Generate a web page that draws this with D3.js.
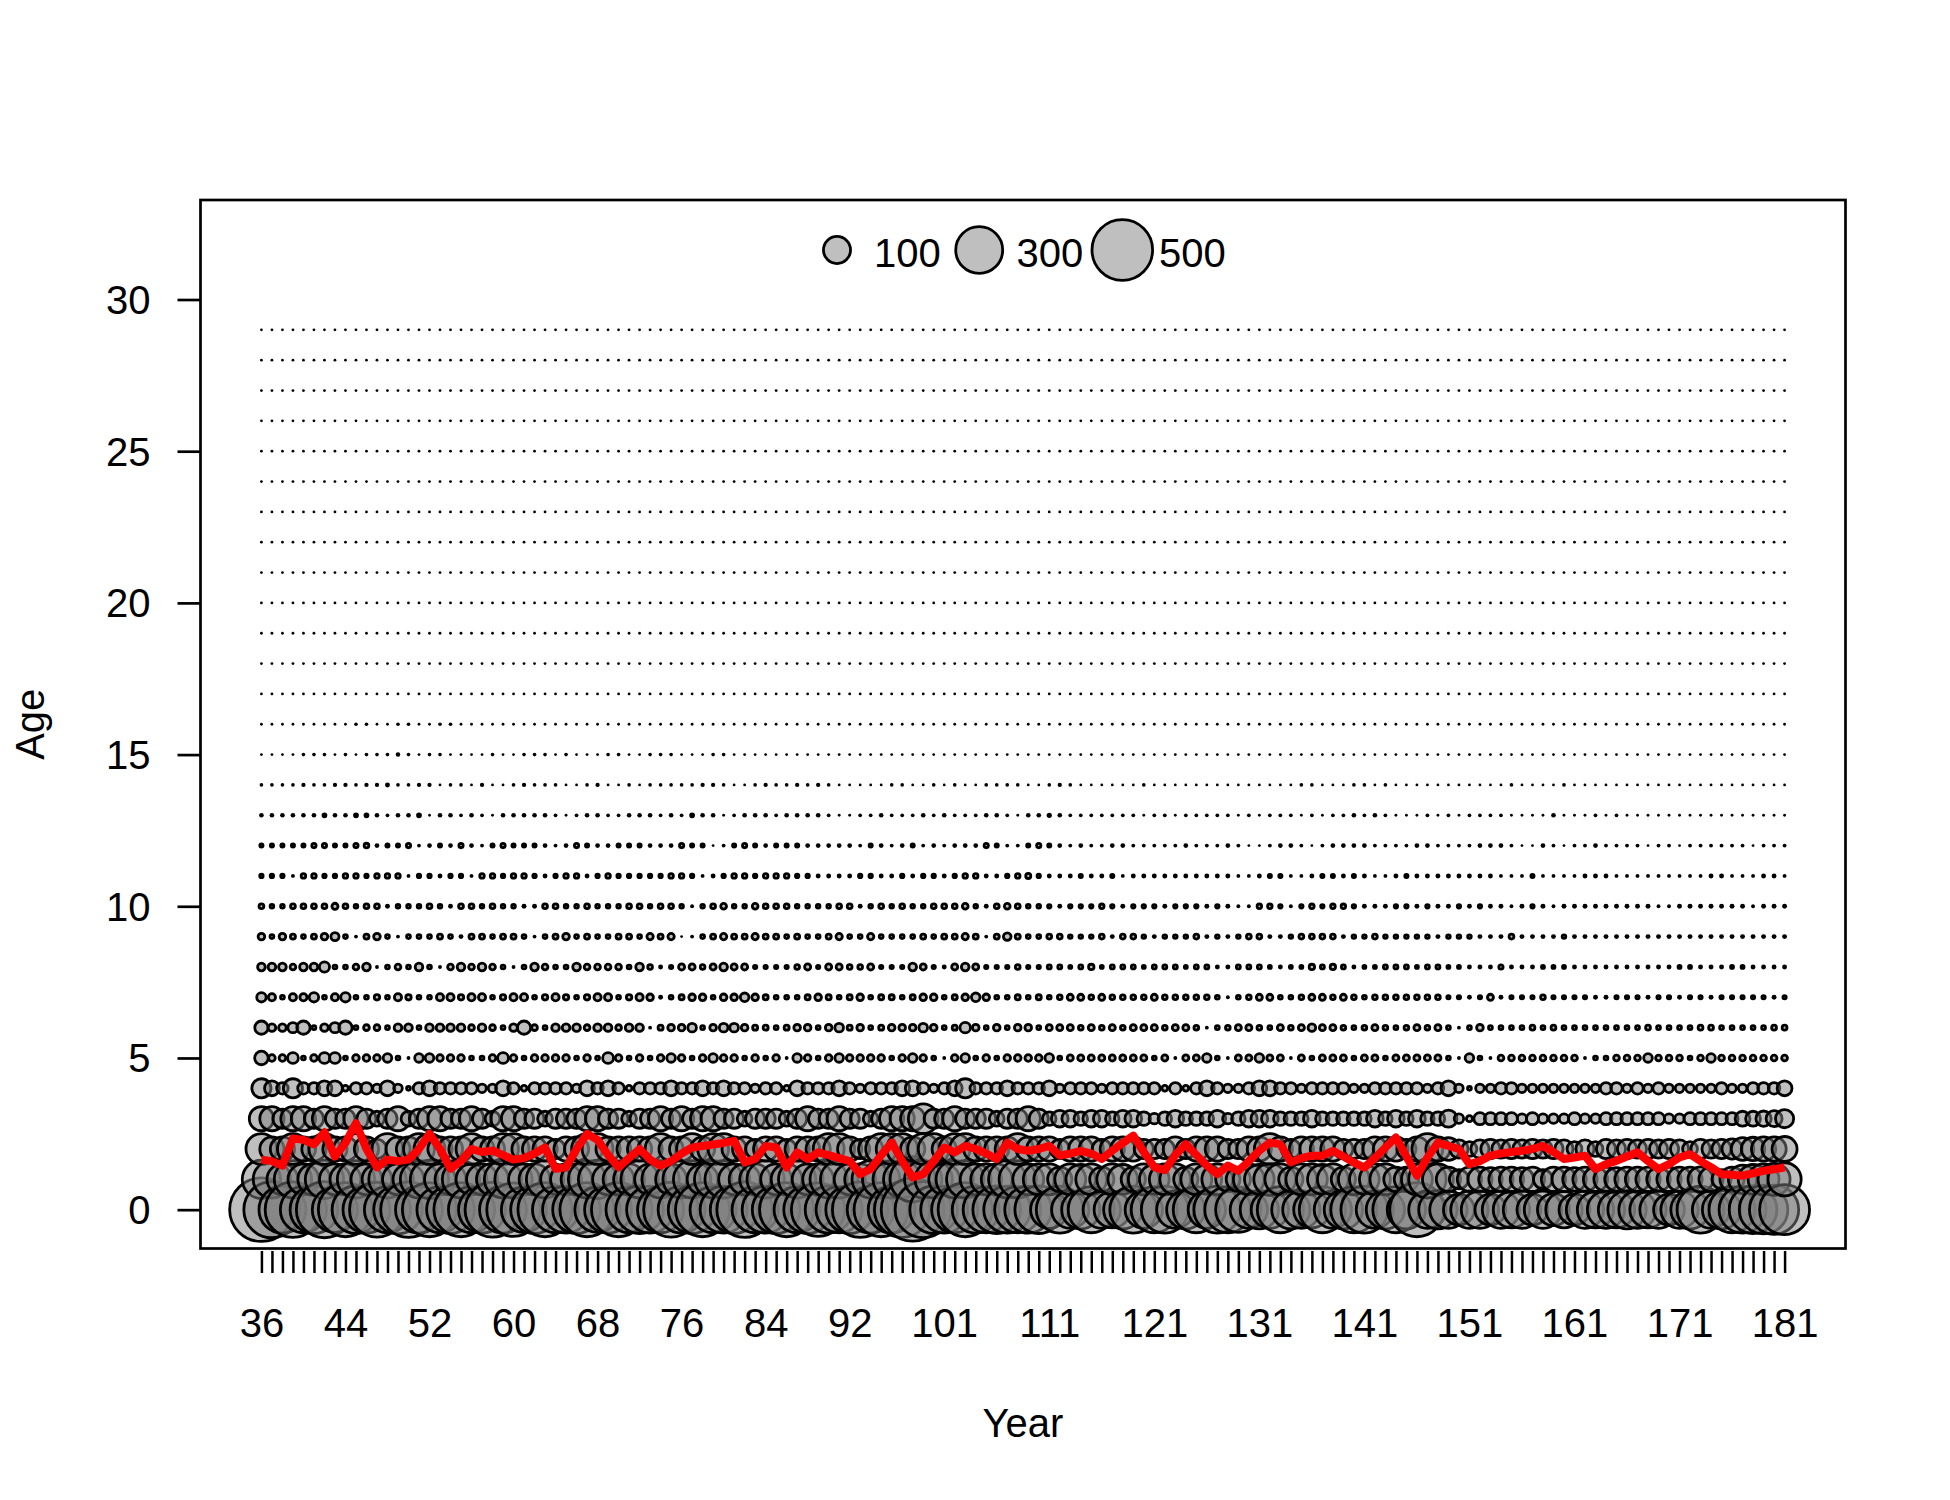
<!DOCTYPE html>
<html><head><meta charset="utf-8">
<script src="https://cdn.jsdelivr.net/npm/d3@7"></script>
<style>body{margin:0;background:#fff}text{font-family:"Liberation Sans",Arial,Helvetica,sans-serif;fill:#000}</style>
</head><body><svg id="chart" width="1950" height="1500"></svg>
<script>
// ---------------- DATA ----------------
const years = d3.range(36, 182); // 36 ... 181
const xTickLabels = [36,44,52,60,68,76,84,92,101,111,121,131,141,151,161,171,181];
const yTicks = [0,5,10,15,20,25,30];
const legendValues = [100,300,500];

// segments: years 36-72 | 73-110 | 111-148 | 149-181
const age0 = [550,430,300,420,290,310,430,280,400,310, 300,410,290,320,420,300,400,290,310,400, 290,300,410,300,390,280,310,400,290,300, 310,400,280,300,400,290,310,
  300,290,410,300,310,400,290,300,310,420, 290,300,310,400,290,310,390,300,290,310, 420,300,400,300,420,540,430,310,300,290, 400,300,290,310,300,290,300,310,
  190,300,190,200,290,190,180,200,300,190, 290,300,190,200,290,190,300,290,280,190, 200,190,290,200,190,180,290,190,200,290, 300,190,200,290,200,400,190,200,
  190,130,190,190,130,190,180,190,130,190, 140,180,130,190,180,190,180,200,190,180, 190,130,190,200,300,190,200,290,300,310, 320,330,340];
const age1 = [200,190,130,190,130,140,200,130,130,190, 130,120,190,130,130,190,200,130,130,190, 130,130,140,190,190,130,130,190,120,130, 130,190,200,130,130,130,190,
  130,190,130,190,190,130,190,190,130,130, 130,190,130,130,190,130,130,190,190,130, 130,190,190,190,190,280,190,190,130,190, 190,130,130,130,190,190,130,130,
  130,80,130,120,130,80,130,120,80,130, 120,130,130,80,130,120,130,80,80,130, 120,140,130,80,130,130,120,130,80,130, 120,130,130,80,80,130,190,130,
  80,50,80,80,75,80,80,75,80,50, 80,80,75,80,80,80,75,80,80,80, 75,80,80,80,85,80,50,80,110,120, 130,140,150];
const age2 = [130,80,80,130,80,80,130,80,80,130, 80,50,130,80,80,130,130,80,80,80, 130,80,80,130,130,80,80,80,50,80, 80,130,130,80,80,80,80,
  80,130,80,80,130,80,130,130,80,80, 50,80,80,50,80,80,80,130,130,80, 50,80,130,130,130,80,130,130,80,130, 130,80,80,80,80,130,80,80,
  80,50,80,80,80,50,80,80,80,50, 50,50,80,50,80,80,80,50,50,80, 80,130,80,50,80,80,80,80,50,50, 50,80,80,80,50,80,130,80,
  70,45,30,45,50,45,50,45,50,45, 50,45,30,45,30,50,45,50,45,50, 45,50,45,30,50,45,50,55,70,75, 80,80,85];
const age3 = [80,80,50,80,80,50,80,50,50,80, 50,30,50,80,30,50,80,80,50,50, 80,50,30,80,80,50,50,30,50,50, 50,80,80,50,50,30,50,
  50,80,50,80,50,80,80,50,50,30, 50,50,50,30,50,80,50,50,80,50, 50,30,50,80,80,80,120,50,50,80, 50,50,50,30,50,50,80,50,
  25,38,38,25,38,38,25,38,38,25, 15,25,38,25,25,25,38,15,25,38, 38,38,25,25,25,38,25,25,25,25, 25,38,25,38,25,38,25,25,
  40,12,5,20,20,20,20,12,20,12, 12,12,20,12,12,20,20,20,20,20, 20,12,12,20,20,20,20,20,30,30, 32,35,45];
const age4 = [50,30,18,50,18,18,30,30,4.5,18, 18,10,30,10,2,18,30,18,18,18, 18,10,10,30,18,4.5,18,18,18,18, 10,30,18,30,18,4.5,18,
  18,18,30,18,18,30,18,30,18,18, 10,18,18,4.5,30,18,18,18,30,18, 10,18,18,18,30,30,18,10,18,30, 50,18,18,18,30,18,18,18,
  30,10,18,18,18,10,18,18,18,18, 18,4.5,18,4.5,18,30,18,10,10,18, 30,30,18,18,10,18,18,18,18,10, 10,18,18,18,18,18,10,18,
  30,10,2,10,10,18,18,10,10,10, 10,10,10,10,10,18,18,10,18,10, 18,10,10,10,10,10,18,10,10,18, 18,18,30];
const age5 = [25,6,6,16,2,6,16,16,2,6, 6,6,10,2,0.15,10,10,6,6,6, 2,2,6,16,6,2,6,6,6,6, 2,6,2,16,6,2,6,
  2,6,10,6,2,6,10,6,6,2, 6,2,6,0.15,10,6,2,6,10,6, 6,6,6,2,6,10,6,2,0.15,6, 10,2,6,2,6,6,6,6,
  10,2,5,5,5,5,5,5,5,5, 2,5,0.15,5,5,10,2,0.15,5,5, 10,5,5,0.15,5,2,5,5,5,2, 5,5,2,5,5,5,5,5,
  2,0.15,10,2,0.15,4.5,4.5,4.5,4.5,4.5, 4.5,4.5,4.5,0.15,2,2,4.5,4.5,4.5,10, 4.5,4.5,4.5,2,4.5,10,4.5,4.5,4.5,4.5, 4.5,4.5,4.5];
const age6 = [24,8,8,14,24,2,8,14,24,2, 4.5,4.5,2,8,8,2,8,8,8,8, 4.5,8,4.5,2,8,24,4.5,2,8,8, 8,4.5,8,8,4.5,8,8,
  0.15,3.5,6,6,10,2,6,10,10,6, 3.5,3.5,2,3.5,6,6,2,6,10,3.5, 6,2,3.5,6,6,6,10,6,2,3.5, 15,6,2,6,2,6,6,2,
  5,5,5,3,5,3,5,3,5,5, 5,3,5,5,3,0.15,2,3,5,5, 3,2,5,3,5,8,5,5,3,2, 3,5,3,2,3,5,3,5,
  2,0.15,2,6,2,2,2,2,3.2,2, 3.2,2,2,2,2,2,2,2,2,3.2, 2,2,2,2,3.2,3.2,2,2,2,2, 2,3.2,3.2];
const age7 = [12,7,2,7,7,12,2,7,12,2, 2,4,2,7,4,2,2,7,7,4, 7,7,2,4,7,7,2,4,7,4, 2,4,7,7,2,4,7,
  6,0.6,2,3.5,6,6,2,6,6,10, 6,3.5,2,2,2,3.5,6,3.5,2,3.5, 6,2,3.5,3.5,2,3.5,6,6,2,3.5, 6,10,6,2,2,3.5,2,3.5,
  2,3,5,5,3,5,3,3,3,3, 5,3,3,3,3,3,2,0.15,2,3, 5,5,2,2,3,5,5,3,5,3, 2,3,3,3,3,3,3,3,
  1.5,1.5,0.6,1.5,5,0.6,1.5,1.5,1.5,3, 1.5,1.5,1.5,1.5,0.6,0.6,1.5,1.5,1.5,0.6, 1.5,1.5,0.6,1.5,1.5,0.6,1.5,1.5,1.5,1.5, 1.5,0.6,1.5];
const age8 = [8,8,8,4.5,8,8,14,2,2,4.5, 8,0.15,2,4.5,2,8,2,0.15,4.5,8, 4.5,8,4.5,2,0.15,2,8,4.5,2,2, 8,4.5,4.5,4.5,4.5,2,8,
  3,0.6,1.5,5,5,3,5,8,5,5, 1.5,1.5,1.5,1.5,3,5,1.5,5,5,3, 3,5,1.5,1.5,1.5,8,5,1.5,0.6,5, 8,5,1.5,1.5,1.5,3,1.5,1.5,
  2.2,2.2,1.2,2.2,4,1.2,2.2,2.2,2.2,1.2, 2.2,2.2,2.2,1.2,2.2,2.2,0.6,0.6,2.2,2.2, 2.2,1.2,0.6,1.2,1.2,4,2.2,4,2.2,0.6, 1.2,1.2,2.2,2.2,2.2,1.2,2.2,2.2,
  1.2,1.2,0.6,0.6,0.6,2.5,0.6,0.6,0.6,1.2, 1.2,1.2,0.6,0.6,0.6,0.6,0.6,0.6,0.6,0.6, 0.6,0.6,1.2,1.2,0.6,0.6,0.6,1.2,1.2,0.6, 0.6,0.6,0.6];
const age9 = [6,2,6,3.5,2,3.5,6,9,2,0.15, 3.5,6,2,0.15,2,2,2,3.5,2,0.6, 3.5,3.5,2,3.5,3.5,2,0.15,2,3.5,6, 2,3.5,2,2,3.5,3.5,2,
  5.5,3.5,5.5,0,0.15,2,3.5,5.5,3.5,3.5, 5.5,3.5,3.5,2,3.5,2,2,3.5,5.5,2, 2,5.5,2,2,2,2,3.5,2,3.5,3.5, 5.5,3.5,0.15,3.5,8,3.5,2,2,
  3.2,3.2,1.8,1.8,1.8,3.2,0.6,3.2,3.2,1.8, 0.6,1.8,1.8,1.8,3.2,0.6,1.8,0.6,1.8,3.2, 3.2,0.6,0.6,1.8,3.2,3.2,3.2,3.2,0.6,1.8, 1.8,3.2,1.8,1.8,1.8,1.8,1.8,0.6,
  1.8,1.8,1.8,0.6,0.6,0.6,3.2,0.6,0.6,0.6, 0.6,1.8,0.6,0.6,0.6,0.6,0.6,0.6,0.6,0.6, 0.6,0.6,0.6,0.6,0.6,0.6,0.6,0.6,0.6,0.6, 0.6,0.6,0.6];
const age10 = [3.2,1.8,1.8,3.2,3.2,3.2,3.2,5,3.2,1.8, 3.2,3.2,0.6,1.8,1.8,1.8,3.2,1.8,0.6,3.2, 3.2,1.8,3.2,1.8,1.8,0.6,0.6,3.2,3.2,1.8, 1.8,3.2,1.8,1.8,1.8,3.2,3.2,
  1.8,3.2,3.2,1.8,0.15,1.8,3.2,4.5,1.8,1.8, 4.5,3.2,3.2,3.2,1.8,1.8,1.8,1.8,3.2,3.2, 0.6,1.8,3.2,1.8,3.2,1.8,1.8,3.2,3.2,3.2, 4.5,1.8,0.6,3.2,4.5,3.2,1.8,1.8,
  1.6,0.6,1.6,1.6,1.6,2.8,1.6,0.6,1.6,1.6, 1.6,0.6,1.6,1.6,1.6,0.6,1.6,0.6,0.15,0.15, 2.8,2.8,1.6,0.15,1.6,2.8,1.6,2.8,2.8,1.6, 0.6,0.6,0.6,1.6,1.6,0.6,1.6,0.6,
  0.6,1.6,0.6,1.6,0.6,0.6,0.15,0.6,1.6,0.6, 0.15,0.6,0.6,0.6,0.6,0.6,0.6,0.6,0.6,0.6, 0.15,0.15,0.6,0.6,0.6,0.6,0.6,0.6,0.6,0.15, 0.6,0.6,0.6];
const age11 = [1.6,1.6,1.6,0.15,2.8,2.8,1.6,1.6,2.8,2.8, 1.6,2.8,2.8,2.8,0.15,1.6,1.6,0.6,1.6,1.6, 0.15,2.8,2.8,1.6,2.8,2.8,1.6,0.6,1.6,2.8, 2.8,0.6,1.6,2.8,1.6,1.6,1.6,
  1.6,1.6,2.8,2.8,1.6,0.15,0.6,1.6,2.8,2.8, 1.6,2.8,2.8,2.8,1.6,1.6,0.6,0.6,0.6,0.6, 1.6,1.6,0.6,0.6,1.6,0.6,1.6,1.6,0.6,1.6, 2.8,2.8,0.6,0.6,1.6,2.8,3.5,1.6,
  0.6,0.6,0.6,1.4,0.6,0.6,1.4,0.15,0.6,0.6, 0.6,0.6,0.6,0.6,0.6,0.6,0.6,0.6,0.15,0.15, 0.6,1.4,1.4,0.15,0.15,0.6,1.4,1.4,0.6,1.4, 0.6,0.15,0.15,0.6,1.4,0.6,0.6,0.6,
  0.6,0.6,0.6,0.6,0.6,0.15,0.15,0.15,1.4,0.15, 0.15,0.15,0.15,0.6,0.6,0.6,0.15,0.15,0.15,0.15, 0.15,0.15,0.15,0.15,0.15,0.6,0.6,0.15,0.15,0.15, 0.6,0.6,0.15];
const age12 = [1.4,1.4,1.4,1.4,1.4,2.5,2.5,1.4,1.4,2.5, 3,0.5,1.4,1.4,2.5,0.15,0.5,1.4,0.5,2.5, 0.5,0.15,1.4,2.5,1.4,1.4,1.4,0.5,0.15,0.5, 2.5,1.4,0.5,0.5,1.4,1.4,1.4,
  0.5,0.5,0.5,2.5,1.4,1.4,0,0.15,1.4,2.5, 1.4,0.5,1.4,1.4,1.4,0.5,0.5,0.5,0.5,0.5, 0.15,1.4,0.5,0.15,0.5,1.4,0.15,0.5,0.15,0.5, 0.5,0.5,2.5,1.4,0.15,0.15,1.4,2.5,
  1.4,0.5,0.15,0.5,0.15,0.15,0.5,0.5,0.15,0.15, 0.15,0.15,0.15,0.5,0.15,0.15,0.15,0.5,0.15,0, 0,0.15,0.5,0.5,0.15,0,0.15,0.5,0.5,0.5, 0.5,0.15,0.15,0.15,0.15,0.5,0.5,0.15,
  0.15,0.15,0.15,0.5,0.5,0.5,0.15,0,0,0.5, 0.15,0,0.15,0.15,0.5,0.15,0.15,0.15,0.15,0, 0.15,0.15,0,0.15,0.15,0.15,0.15,0.15,0.15,0, 0.15,0.15,0.15];
const age13 = [0.45,0.45,0.45,0.45,0.45,0.45,1.2,0.45,0.45,1.2, 1.2,0.45,0.12,0.45,0.45,1.2,0,0.45,0.45,0.12, 0.45,0.12,0,0.45,0.45,0.45,0.45,0.45,0.12,0, 0.12,0.45,0.45,0.12,0.12,0.45,0.45,
  0.45,0.12,0.45,0.12,1.2,0.45,0.45,0,0.12,0.45, 0.45,0.45,0.12,0.45,0.45,0.45,0.45,0.12,0,0, 0.12,0.12,0.45,0.12,0.12,0.12,0.45,0.12,0.45,0.12, 0.12,0.12,0.45,0.45,0.12,0,0.45,0.45,
  0.8,0.45,0.12,0.12,0.12,0.12,0.12,0.12,0.12,0, 0.12,0.12,0,0.12,0.12,0.12,0.12,0.12,0,0.12, 0,0.12,0.12,0.12,0,0.12,0,0.12,0.12,0.45, 0.12,0.45,0.12,0,0,0,0.12,0,
  0.12,0,0.12,0.12,0.12,0.12,0,0,0,0, 0.45,0,0,0,0.12,0,0.12,0,0,0, 0,0,0,0,0,0,0,0,0,0, 0,0,0];
const age14 = [0.1,0.1,0.1,0.1,0.3,0.1,0.1,0.3,0.3,0.1, 0.3,0.3,0.6,0.1,0.1,0.3,0.3,0,0.1,0.1, 0,0.3,0,0,0.1,0.3,0.1,0.1,0.1,0, 0,0.1,0.3,0,0,0.1,0,
  0.1,0.1,0.1,0.1,0.1,0.3,0.3,0.1,0,0, 0.1,0.3,0.1,0.1,0.3,0.1,0.3,0.1,0,0, 0,0,0,0.1,0.1,0,0,0.1,0,0.1, 0,0,0.1,0.1,0.1,0.1,0,0,
  0.1,0.3,0.1,0,0,0,0,0,0,0.1, 0,0,0,0,0,0,0,0,0,0, 0,0,0,0,0.1,0.1,0,0,0,0.1, 0.1,0,0.1,0,0,0,0,0,
  0,0,0,0,0,0,0.1,0,0,0, 0,0.1,0,0,0,0,0,0,0,0, 0,0,0,0,0,0,0,0,0,0, 0,0,0];
const age15 = [0,0,0,0,0.1,0.1,0.1,0,0.1,0, 0.1,0.1,0.1,0.4,0.1,0,0.1,0.1,0,0, 0,0,0.1,0,0,0.1,0.1,0.1,0,0.1, 0,0,0,0.1,0.1,0,0,0.1,0.1,0.1,
  0,0,0,0.1,0.1,0,0,0,0,0, 0,0,0,0,0,0,0,0,0,0, 0,0,0,0,0,0,0,0,0,0, 0,0,0,0,0,0,0,0,0,0,
  0,0,0,0,0,0,0,0,0,0, 0,0,0,0,0,0,0,0,0,0, 0,0,0,0,0,0,0,0,0,0, 0,0,0,0,0,0,0,0,0,0,
  0,0,0,0,0,0,0,0,0,0, 0,0,0,0,0,0,0,0,0,0, 0,0,0,0,0,0];
const age16 = [0,0,0,0,0,0,0,0,0,0.1, 0.1,0,0,0.1,0.1,0,0,0.1,0.1,0, 0,0,0,0,0,0,0,0,0,0, 0,0,0,0,0,0,0,0,0,0,
  0,0,0,0,0,0,0,0,0,0, 0,0,0,0,0,0,0,0,0,0, 0,0,0,0,0,0,0,0,0,0, 0,0,0,0,0,0,0,0,0,0,
  0,0,0,0,0,0,0,0,0,0, 0,0,0,0,0,0,0,0,0,0, 0,0,0,0,0,0,0,0,0,0, 0,0,0,0,0,0,0,0,0,0,
  0,0,0,0,0,0,0,0,0,0, 0,0,0,0,0,0,0,0,0,0, 0,0,0,0,0,0];
// ages 17-29: every year reads as an empty (zero) bubble
const emptyRow = [0,0,0,0,0,0,0,0,0,0, 0,0,0,0,0,0,0,0,0,0, 0,0,0,0,0,0,0,0,0,0, 0,0,0,0,0,0,0,0,0,0,
  0,0,0,0,0,0,0,0,0,0, 0,0,0,0,0,0,0,0,0,0, 0,0,0,0,0,0,0,0,0,0, 0,0,0,0,0,0,0,0,0,0,
  0,0,0,0,0,0,0,0,0,0, 0,0,0,0,0,0,0,0,0,0, 0,0,0,0,0,0,0,0,0,0, 0,0,0,0,0,0,0,0,0,0,
  0,0,0,0,0,0,0,0,0,0, 0,0,0,0,0,0,0,0,0,0, 0,0,0,0,0,0];
const age17 = emptyRow, age18 = emptyRow, age19 = emptyRow, age20 = emptyRow, age21 = emptyRow,
      age22 = emptyRow, age23 = emptyRow, age24 = emptyRow, age25 = emptyRow, age26 = emptyRow,
      age27 = emptyRow, age28 = emptyRow, age29 = emptyRow;

// mean age per year (red line)
const meanAge = [1.65,1.6,1.45,2.35,2.3,2.15,2.55,1.75,2.2,2.85,
  2.0,1.4,1.65,1.6,1.65,2.0,2.5,2.0,1.35,1.6,
  2.0,1.9,1.95,1.8,1.65,1.7,1.85,2.05,1.35,1.4,
  2.0,2.5,2.3,1.8,1.4,1.7,2.0,1.65,1.45,1.6,
  1.85,2.05,2.1,2.15,2.2,2.27,1.56,1.67,2.1,2.05,
  1.39,1.89,1.67,1.89,1.8,1.7,1.6,1.17,1.34,1.8,
  2.21,1.6,1.06,1.17,1.6,2.05,1.89,2.1,2.0,1.85,
  1.67,2.21,2.0,1.94,2.0,2.1,1.78,1.85,1.94,1.85,
  1.67,1.95,2.2,2.44,1.9,1.4,1.3,1.8,2.16,1.8,
  1.45,1.17,1.45,1.28,1.6,1.95,2.21,2.16,1.56,1.7,
  1.78,1.78,1.94,1.75,1.55,1.39,1.7,2.05,2.38,1.75,
  1.12,1.72,2.21,2.1,2.0,1.5,1.6,1.78,1.85,1.9,
  1.94,2.0,2.1,1.9,1.67,1.72,1.78,1.34,1.5,1.61,
  1.75,1.89,1.6,1.34,1.5,1.72,1.83,1.6,1.4,1.17,
  1.15,1.12,1.2,1.28,1.33,1.39];

// ---------------- DRAWING ----------------
const W = 1950, H = 1500;
const plot = {left: 200.5, right: 1845.5, top: 200, bottom: 1248.5};
const svg = d3.select('#chart');
svg.append('rect').attr('width', W).attr('height', H).attr('fill', '#fff');

const x = d3.scaleLinear().domain([36 - 5.8, 181 + 5.8]).range([plot.left, plot.right]);
const y = d3.scaleLinear().domain([-1.28, 33.28]).range([plot.bottom, plot.top]);
const r = d3.scaleSqrt().domain([0, 500]).range([0, 30.3]);
const bubbleFill = 'rgba(128,128,128,0.5)';
const bubbleStroke = 2.8;
const halfStroke = bubbleStroke / 2;

const ageRows = [age0,age1,age2,age3,age4,age5,age6,age7,age8,age9,age10,age11,age12,age13,age14,
  age15,age16,age17,age18,age19,age20,age21,age22,age23,age24,age25,age26,age27,age28,age29];
const points = [];
years.forEach((yr, i) => ageRows.forEach((row, a) => {
  if (row[i] !== undefined) points.push({year: yr, age: a, value: row[i]});
}));

// circles whose radius is smaller than half the outline width look like solid dots
svg.append('g').selectAll('circle').data(points).join('circle')
  .attr('cx', d => x(d.year)).attr('cy', d => y(d.age))
  .attr('r', d => r(d.value) >= halfStroke ? r(d.value) : r(d.value) + halfStroke)
  .attr('fill', d => r(d.value) >= halfStroke ? bubbleFill : '#000')
  .attr('stroke', d => r(d.value) >= halfStroke ? '#000' : 'none')
  .attr('stroke-width', bubbleStroke);

// mean age line
svg.append('path')
  .datum(years.map((yr, i) => [yr, meanAge[i]]).filter(d => d[1] !== undefined))
  .attr('d', d3.line().x(d => x(d[0])).y(d => y(d[1])))
  .attr('fill', 'none').attr('stroke', '#ff0000').attr('stroke-width', 8)
  .attr('stroke-linejoin', 'round');

// box
svg.append('rect').attr('x', plot.left).attr('y', plot.top)
  .attr('width', plot.right - plot.left).attr('height', plot.bottom - plot.top)
  .attr('fill', 'none').attr('stroke', '#000').attr('stroke-width', 2.7);

// y axis
const gy = svg.append('g').attr('transform', `translate(${plot.left},0)`)
  .call(d3.axisLeft(y).tickValues(yTicks).tickSize(23).tickPadding(27));
gy.select('.domain').remove();
gy.selectAll('.tick line').attr('stroke', '#000').attr('stroke-width', 2.7);
gy.selectAll('.tick text').attr('font-size', 40).attr('dy', '0.35em')
  .style('font-family', '"Liberation Sans",Arial,sans-serif');

// x axis
const gx = svg.append('g').attr('transform', `translate(0,${plot.bottom + 2.5})`)
  .call(d3.axisBottom(x).tickValues(years).tickSize(22).tickPadding(36)
    .tickFormat(d => xTickLabels.includes(d) ? String(d) : ''));
gx.select('.domain').remove();
gx.selectAll('.tick line').attr('stroke', '#000').attr('stroke-width', 2.5);
gx.selectAll('.tick text').attr('font-size', 40)
  .style('font-family', '"Liberation Sans",Arial,sans-serif');

// axis titles
svg.append('text').attr('x', (plot.left + plot.right) / 2).attr('y', 1437)
  .attr('text-anchor', 'middle').attr('font-size', 40).text('Year');
svg.append('text').attr('transform', `translate(44,${(plot.top + plot.bottom) / 2}) rotate(-90)`)
  .attr('text-anchor', 'middle').attr('font-size', 40).text('Age');

// legend
const legendPos = [{cx: 837, tx: 874}, {cx: 979.2, tx: 1016.5}, {cx: 1122.3, tx: 1159}];
const lg = svg.append('g');
legendValues.forEach((v, k) => {
  lg.append('circle').attr('cx', legendPos[k].cx).attr('cy', 250).attr('r', r(v))
    .attr('fill', bubbleFill).attr('stroke', '#000').attr('stroke-width', bubbleStroke);
  lg.append('text').attr('x', legendPos[k].tx).attr('y', 266.5).attr('font-size', 40).text(v);
});
</script></body></html>
